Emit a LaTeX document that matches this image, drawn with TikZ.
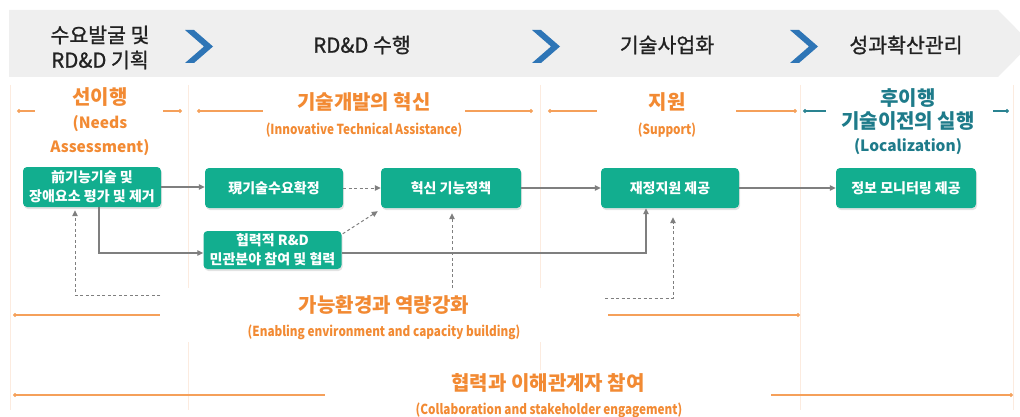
\documentclass[tikz,border=0pt]{standalone}
\usepackage{fontspec}
\setmainfont{Noto Sans CJK KR}
\newfontfamily\condfont{Noto Sans CJK KR}[FakeStretch=0.85]
\newfontfamily\hdrfont{Noto Sans CJK KR}[FakeBold=1]
\usetikzlibrary{arrows.meta,shadows,calc}

\definecolor{bandgrey}{HTML}{EFEFEF}
\definecolor{chevblue}{HTML}{2E75B6}
\definecolor{hdrtext}{HTML}{222222}
\definecolor{phaseorange}{HTML}{F28A33}
\definecolor{phaseline}{HTML}{F5A05A}
\definecolor{phaseteal}{HTML}{1E7B8A}
\definecolor{tealline}{HTML}{2A8391}
\definecolor{boxgreen}{HTML}{12AE8F}
\definecolor{flowgrey}{HTML}{7F7F7F}
\definecolor{sepline}{HTML}{FCEBDF}

\tikzset{
  hdr/.style={text=hdrtext, align=center, font=\hdrfont\fontsize{20.5}{25}\selectfont},
  chev/.style={fill=chevblue},
  phasetitle/.style={text=phaseorange, align=center, font=\bfseries\fontsize{20}{25}\selectfont},
  phaseeng/.style={text=phaseorange, align=center, font=\bfseries\fontsize{15.5}{24}\selectfont},
  phasesub/.style={text=phaseorange, align=center, font=\condfont\bfseries\fontsize{13.8}{16}\selectfont},
  tealtitle/.style={text=phaseteal, align=center, font=\bfseries\fontsize{20}{22.5}\selectfont},
  stepbox/.style={fill=boxgreen, rounded corners=4pt, minimum width=138pt, minimum height=40pt,
    inner sep=0pt, text=white, align=center, font=\bfseries\fontsize{14}{19}\selectfont,
    drop shadow={opacity=0.22, shadow xshift=1pt, shadow yshift=-2pt}},
  flow/.style={draw=flowgrey, line width=1.3pt, -{Triangle[length=6pt,width=5.5pt]}},
  dflow/.style={draw=flowgrey, line width=1pt, dash pattern=on 3pt off 2.5pt,
    -{Triangle[length=6pt,width=5.5pt]}},
  spanline/.style={draw=phaseline, line width=1.1pt},
  tspanline/.style={draw=tealline, line width=1.1pt},
  dotleft/.style={{Circle[length=4pt]}-},
  dotright/.style={-{Circle[length=4pt]}},
  sep/.style={draw=sepline, line width=1pt}
}

\begin{document}
\begin{tikzpicture}[x=1pt,y=-1pt]
\useasboundingbox (0,0) rectangle (1020,417);

% header band with pointed right end
\begin{scope}
  \clip (0,0) rectangle (1020,417);
  \fill[bandgrey] (9,10) -- (998,10) -- (1031,43.5) -- (998,77) -- (9,77) -- cycle;
\end{scope}

% chevrons between the stages
\foreach \cx in {185,532,790}{
  \fill[chev] (\cx,30) -- (\cx+9,30) -- (\cx+28,46.5) -- (\cx+9,63) -- (\cx,63) -- (\cx+19,46.5) -- cycle;
}

% stage titles
\node[hdr] (h1) at (100,47.5) {수요발굴 및\\RD\&D 기획};
\node[hdr] (h2) at (362,45) {RD\&D 수행};
\node[hdr] (h3) at (667,45) {기술사업화};
\node[hdr] (h4) at (906,45) {성과확산관리};

% faint column separators
\foreach \sx in {10,188,540,800,1013}{
  \draw[sep] (\sx,85) -- (\sx,410);
}

% white panels behind the lower labels
\fill[white] (160,288) rectangle (608,342);
\fill[white] (325,370) rectangle (771,417);

% phase labels
\node[phasetitle] (p1) at (100,97) {선이행};
\node[phaseeng] (p1s) at (100,136) {(Needs\\Assessment)};
\node[phasetitle] (p2) at (364,102) {기술개발의 혁신};
\node[phasesub] (p2s) at (364,130) {(Innovative Technical Assistance)};
\node[phasetitle] (p3) at (667,102) {지원};
\node[phasesub] (p3s) at (667,130) {(Support)};
\node[tealtitle] (p4) at (908,109.5) {후이행\\기술이전의 실행};
\node[tealtitle, font=\bfseries\fontsize{15.5}{20}\selectfont] (p4s) at (908,147) {(Localization)};

\node[phasetitle] (e1) at (384,305) {가능환경과 역량강화};
\node[phasesub] (e1s) at (384,332) {(Enabling environment and capacity building)};
\node[phasetitle] (c1) at (548,383) {협력과 이해관계자 참여};
\node[phasesub] (c1s) at (549,410) {(Collaboration and stakeholder engagement)};

% span markers beside the phase labels
\draw[spanline, dotleft]  (17,111) -- (35,111);
\draw[spanline, dotright] (163,111) -- (182,111);
\draw[spanline, dotleft]  (197,111) -- (263,111);
\draw[spanline, dotright] (465,111) -- (533,111);
\draw[spanline, dotleft]  (548,111) -- (597,111);
\draw[spanline, dotright] (736,111) -- (797,111);
\draw[tspanline, dotleft]  (803,111) -- (826,111);
\draw[tspanline, dotright] (993,111) -- (1009,111);
\draw[spanline, dotleft]  (13,315) -- (160,315);
\draw[spanline, dotright] (608,315) -- (800,315);
\draw[spanline, dotleft]  (13,395) -- (325,395);
\draw[spanline, dotright] (771,395) -- (1013,395);

% process boxes
\node[stepbox] (A) at (92,187) {前기능기술 및\\장애요소 평가 및 제거};
\node[stepbox] (B) at (274,188) {現기술수요확정};
\node[stepbox, minimum width=140pt] (C) at (451,188) {혁신 기능정책};
\node[stepbox, minimum height=38pt] (D) at (272.5,250) {협력적 R\&D\\민관분야 참여 및 협력};
\node[stepbox] (E) at (670,188) {재정지원 제공};
\node[stepbox, minimum width=140pt] (F) at (906,188) {정보 모니터링 제공};

% solid flows
\draw[flow] (A.east) -- (B.west |- A.east);
\draw[flow] ([xshift=7pt]A.south) |- ([yshift=-3pt]D.west);
\draw[flow] (C.east) -- (E.west);
\draw[flow] ([yshift=-3pt]D.east) -| ([xshift=-24pt]E.south);
\draw[flow] (E.east) -- (F.west);

% dashed flows
\draw[dflow] (B.east) -- (C.west);
\draw[dflow] ($(D.north east)+(1,3)$) -- ($(C.south west)+(-3,3)$);

% support from the enabling environment
\coordinate (fb1) at (160,295);
\coordinate (fb2) at (452,288);
\coordinate (fb3) at (605,298);
\draw[dflow, shorten >=3pt] (fb1) -| ([xshift=-17pt]A.south);
\draw[dflow, shorten >=5pt] (fb2) -- ([xshift=1pt]C.south);
\draw[dflow, shorten >=9pt] (fb3) -| ([xshift=3pt]E.south);
\end{tikzpicture}
\end{document}
